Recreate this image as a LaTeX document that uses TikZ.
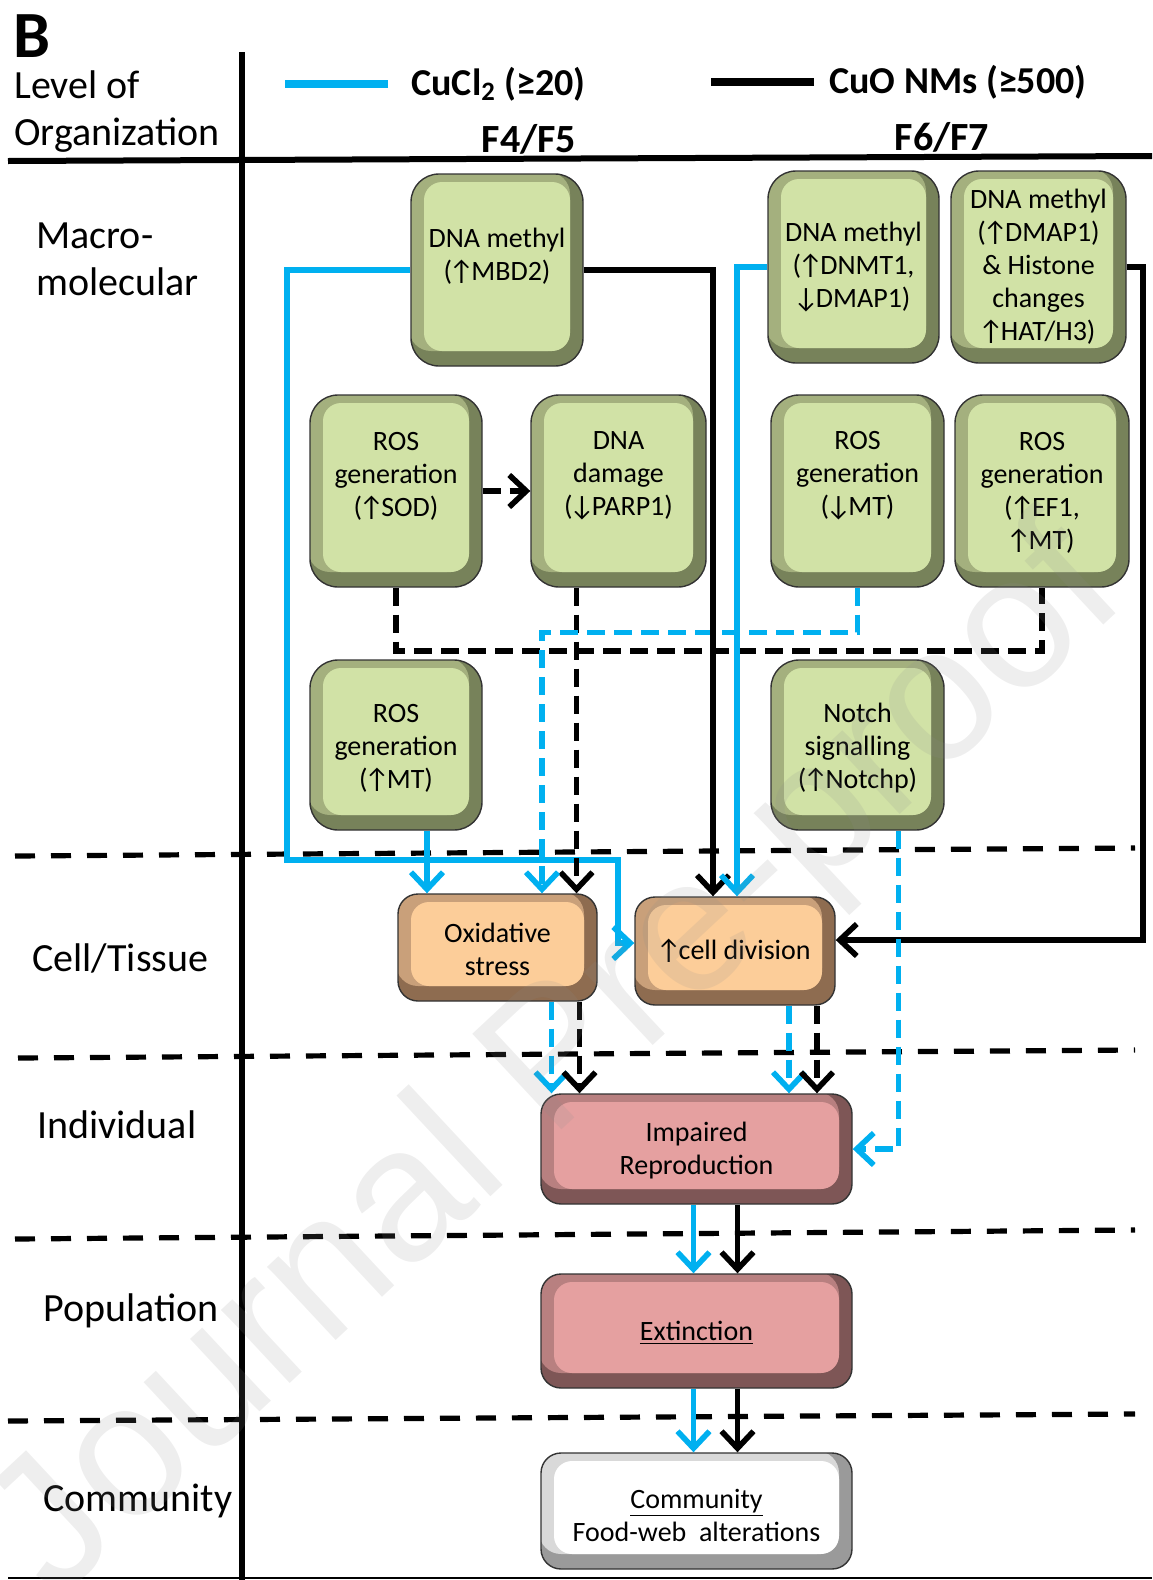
\documentclass[tikz,border=0pt]{standalone}
\usepackage{fontspec}
\setmainfont{Carlito}
\newfontfamily\wmfont{Liberation Sans}
\usetikzlibrary{arrows.meta,calc}
\definecolor{cblue}{HTML}{00B0F0}
\definecolor{gL}{HTML}{D1E2A6}
\definecolor{gM}{HTML}{A4B07E}
\definecolor{gD}{HTML}{77825A}
\definecolor{oL}{HTML}{FCCD99}
\definecolor{oM}{HTML}{C9A07A}
\definecolor{oD}{HTML}{8E6C50}
\definecolor{pL}{HTML}{E5A0A0}
\definecolor{pM}{HTML}{B88080}
\definecolor{pD}{HTML}{7E5656}
\definecolor{wM}{HTML}{D9D9D9}
\definecolor{wD}{HTML}{9A9A9A}
\newcommand{\upa}{\kern-1.6pt↑\kern-1.4pt}
\newcommand{\dna}{\kern-1.6pt↓\kern-1.4pt}
\begin{document}
\begin{tikzpicture}[x=0.5pt,y=-0.5pt,
  lvl/.style={anchor=west, font=\fontsize{20}{23.5}\selectfont, align=left, inner sep=0},
  hdr/.style={font=\bfseries\fontsize{19}{22}\selectfont, inner sep=0},
  btxt/.style={font=\fontsize{14}{16.5}\selectfont, align=center, inner sep=0},
  bevel/.style n args={3}{fill=#3, draw=black!80, line width=0.7pt, inner sep=0,
     path picture={
       \fill[#2, rounded corners=11pt] ([xshift=-1pt,yshift=1pt]path picture bounding box.north west) rectangle ([xshift=-6.5pt,yshift=7.5pt]path picture bounding box.south east);
       \fill[#1, rounded corners=9pt] ([xshift=6.5pt,yshift=-4pt]path picture bounding box.north west) rectangle ([xshift=-6.5pt,yshift=7.5pt]path picture bounding box.south east);
     }},
  gbox/.style={bevel={gL}{gM}{gD}, rounded corners=14pt},
  obox/.style={bevel={oL}{oM}{oD}, rounded corners=10pt},
  pbox/.style={bevel={pL}{pM}{pD}, rounded corners=10pt},
  wbox/.style={bevel={white}{wM}{wD}, rounded corners=10pt},
  sepline/.style={black, line width=2.6pt, dash pattern=on 10pt off 8pt},
  bl/.style={cblue, line width=2.8pt},
  bk/.style={black, line width=2.8pt},
  bld/.style={bl, dash pattern=on 9pt off 4.5pt},
  bkd/.style={bk, dash pattern=on 9pt off 4.5pt},
  arr/.style={-{Straight Barb[length=8.5pt,width=16pt]}}
]
\useasboundingbox (0,0) rectangle (1152,1580);

% frame lines
\draw[line width=2.6pt] (242,52) -- (242,1580);
\draw[line width=3pt] (8,161) -- (1152,156);
\draw[line width=1pt] (8,1578) -- (1152,1578);

% separators
\draw[sepline] (15,856) -- (1135,848);
\draw[sepline] (18,1058) -- (1135,1050);
\draw[sepline] (15,1239) -- (1135,1230);
\draw[sepline] (8,1421) -- (1135,1414);

% header texts
\node[anchor=west, inner sep=0, font=\bfseries\fontsize{33}{36}\selectfont] (lblB) at (13,36) {B};
\node[lvl] (lorg) at (14,112) {Level of\\Organization};
\node[lvl] (lmac) at (36,259) {Macro-\\molecular};
\node[lvl] (lcell) at (32,958) {Cell/Tissue};
\node[lvl] (lind) at (37,1125) {Individual};
\node[lvl] (lpop) at (43,1311) {Population};
\node[lvl] (lcom) at (43,1501) {Community};

\node[hdr, anchor=west] (leg1) at (411,84) {CuCl\textsubscript{2} (≥20)};
\node[hdr, anchor=west] (leg2) at (829,82) {CuO NMs (≥500)};
\draw[cblue, line width=4pt] ([xshift=-11.5pt]leg1.west) -- ++(-103,0);
\draw[black, line width=4pt] ([xshift=-7.5pt]leg2.west) -- ++(-103,0);
\node[hdr, font=\bfseries\fontsize{20}{23}\selectfont] (f45) at (529,139) {F4/F5};
\node[hdr, font=\bfseries\fontsize{20}{23}\selectfont] (f67) at (942,137) {F6/F7};

% boxes
\node[gbox, minimum width=86pt, minimum height=96pt] (mbd) at (497,270) {};
\node[gbox, minimum width=85.5pt, minimum height=96pt] (dnmt) at (853.5,267) {};
\node[gbox, minimum width=87.5pt, minimum height=96pt] (dmap) at (1038.5,267) {};
\node[gbox, minimum width=86pt, minimum height=96pt] (sod) at (396,491) {};
\node[gbox, minimum width=87.5pt, minimum height=96pt] (dmg) at (618.5,491) {};
\node[gbox, minimum width=86.5pt, minimum height=96pt] (rmt1) at (857.5,491) {};
\node[gbox, minimum width=87pt, minimum height=96pt] (ef1) at (1042,491) {};
\node[gbox, minimum width=86pt, minimum height=85pt] (rmt2) at (396,745) {};
\node[gbox, minimum width=86.5pt, minimum height=85pt] (notch) at (857.5,745) {};
\node[obox, minimum width=99.5pt, minimum height=53.5pt] (oxs) at (497.5,947.5) {};
\node[obox, minimum width=100pt, minimum height=54pt] (cdiv) at (735,951) {};
\node[pbox, minimum width=155.5pt, minimum height=55pt] (imp) at (696.5,1149) {};
\node[pbox, minimum width=155.5pt, minimum height=57pt] (ext) at (696.5,1331) {};
\node[wbox, minimum width=155.5pt, minimum height=58pt] (com) at (696.5,1511) {};

% box texts
\node[btxt] (mbdT) at ($(mbd.center)+(0,-14)$) {DNA methyl\\(\upa MBD2)};
\node[btxt] (dnmtT) at ($(dnmt.center)+(0,0)$) {DNA methyl\\(\upa DNMT1,\\\dna DMAP1)};
\node[btxt] (dmapT) at ($(dmap.center)+(0,0)$) {DNA methyl\\(\upa DMAP1)\\\& Histone\\changes\\\upa HAT/H3)};
\node[btxt] (sodT) at ($(sod.center)+(0,-15)$) {ROS\\generation\\(\upa SOD)};
\node[btxt] (dmgT) at ($(dmg.center)+(0,-15)$) {DNA\\damage\\(\dna PARP1)};
\node[btxt] (rmt1T) at ($(rmt1.center)+(0,-15)$) {ROS\\generation\\(\dna MT)};
\node[btxt] (ef1T) at ($(ef1.center)+(0,2)$) {ROS\\generation\\(\upa EF1,\\\upa MT)};
\node[btxt] (rmt2T) at ($(rmt2.center)+(0,3)$) {ROS\\generation\\(\upa MT)};
\node[btxt] (notchT) at ($(notch.center)+(0,3)$) {Notch\\signalling\\(\upa Notchp)};
\node[btxt] (oxsT) at ($(oxs.center)+(0,2)$) {Oxidative\\stress};
\node[btxt] (cdivT) at ($(cdiv.center)+(0,0)$) {\upa cell division};
\node[btxt] (impT) at ($(imp.center)+(0,2)$) {Impaired\\Reproduction};
\node[btxt] (extT) at ($(ext.center)+(0,2)$) {\underline{Extinction}};
\node[btxt] (comT) at ($(com.center)+(0,4)$) {\underline{Community}\\Food-web\ \ alterations};

% connectors
\draw[bl,arr] (mbd.west) -| (287,860) -- (618,860) |- ([yshift=4pt]cdiv.west);
\coordinate (b1) at ($(rmt2.south)+(31,0)$);
\draw[bl,arr] (b1) -- (b1 |- oxs.north);
\draw[bkd] (sod.south) |- ($(ef1.south)+(0,63)$) -- (ef1.south);
\coordinate (d1) at ($(dmg.south)+(-42,0)$);
\draw[bkd,arr] (d1) -- (d1 |- oxs.north);
\coordinate (e1) at ($(oxs.north)+(44.5,-261)$);
\draw[bld,arr] (rmt1.south) |- (e1) -- (e1 |- oxs.north);
\coordinate (f1) at ($(cdiv.north)+(-22,0)$);
\draw[bk,arr] (mbd.east) -| (f1);
\coordinate (g1) at ($(cdiv.north)+(2,0)$);
\draw[bl,arr] (dnmt.west) -| (g1);
\coordinate (h1) at ($(cdiv.east)+(0,-11)$);
\draw[bk,arr] (dmap.east) -- ++(16,0) |- (h1);
\coordinate (i1) at ($(notch.south)+(41,0)$);
\draw[bld,arr] (i1) |- (imp.east);
\draw[bkd,arr] (sod.east) -- (dmg.west);

\coordinate (j1) at ($(oxs.south)+(54,0)$);
\coordinate (j2) at ($(oxs.south)+(82,0)$);
\draw[bld,arr] (j1) -- (j1 |- imp.north);
\draw[bkd,arr] (j2) -- (j2 |- imp.north);
\coordinate (k1) at ($(cdiv.south)+(54,0)$);
\coordinate (k2) at ($(cdiv.south)+(82,0)$);
\draw[bld,arr] (k1) -- (k1 |- imp.north);
\draw[bkd,arr] (k2) -- (k2 |- imp.north);
\coordinate (l1) at ($(imp.south)+(-3,0)$);
\coordinate (l2) at ($(imp.south)+(41,0)$);
\draw[bl,arr] (l1) -- (l1 |- ext.north);
\draw[bk,arr] (l2) -- (l2 |- ext.north);
\coordinate (m1) at ($(ext.south)+(-3,0)$);
\coordinate (m2) at ($(ext.south)+(41,0)$);
\draw[bl,arr] (m1) -- (m1 |- com.north);
\draw[bk,arr] (m2) -- (m2 |- com.north);

% watermark
\node[rotate=43, font=\wmfont\fontsize{95}{95}\selectfont, text=black!45, text opacity=0.15, inner sep=0] (wm) at (560,1065) {Journal Pre-proof};
\end{tikzpicture}
\end{document}
